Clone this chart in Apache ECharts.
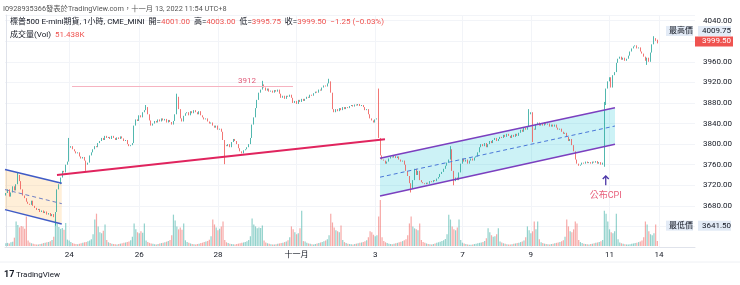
<!DOCTYPE html>
<html><head><meta charset="utf-8">
<script src="https://cdn.jsdelivr.net/npm/echarts@6/dist/echarts.min.js"></script>
<style>html,body{margin:0;padding:0;background:#fff}#c{width:740px;height:285px}</style>
</head><body><div id="c"></div>
<script>
// ---------- data ----------
const xTickLabels = ['24','26','28','十一月','3','7','9','11','14'];
const xTickBars   = [37, 78, 124, 170, 216, 267, 307, 353, 382];
const yTickStep = 40;
const firstOpen = 3700;
// hourly closes: Oct 20 (partial) + Oct 21
const closesW1 = [3705,3712,3698,3706,3718,3710,3722,3740,3728,3712,3700,3695,3688,3684,
  3682,3690,3680,3676,3672,3674,3668,3671,3666,3669,3663,3666,3660,3664,3658,3668,3712,3722,3735,3748,3745,3760,3766];
// Oct 24 - Oct 28
const closesW2 = [3793,3796,3790,3786,3782,3784,3776,3772,3775,3768,3760,3764,3778,3784,3790,3796,3794,3802,3806,3812,3808,3816,3812,
  3814,3810,3816,3812,3808,3813,3810,3815,3811,3806,3808,3800,3796,3798,3802,3836,3848,3845,3856,3852,3862,3866,3872,
  3858,3846,3836,3840,3845,3842,3848,3844,3850,3846,3849,3842,3847,3843,3838,3845,3858,3892,3868,3850,3844,3855,3860,
  3862,3856,3864,3860,3866,3862,3858,3864,3856,3852,3848,3850,3844,3840,3842,3836,3832,3836,3828,3830,3824,3808,3798,
  3796,3800,3794,3804,3810,3806,3800,3792,3786,3782,3788,3790,3794,3800,3812,3838,3852,3870,3886,3900,3906,3916,3910];
// Oct 31 - Nov 4
const closesW3 = [3904,3908,3902,3904,3900,3905,3902,3906,3898,3890,3894,3888,3894,3892,3896,3890,3880,3884,3878,3886,3882,3888,3884,
  3888,3892,3890,3896,3894,3899,3902,3900,3906,3904,3910,3914,3912,3918,3922,3900,3868,3862,3868,3864,3870,3866,3872,
  3868,3872,3870,3874,3876,3873,3877,3875,3878,3874,3876,3872,3866,3868,3858,3850,3846,3842,3848,3850,3812,3778,3770,
  3768,3762,3766,3772,3776,3774,3777,3773,3776,3770,3766,3768,3760,3748,3738,3724,3714,3730,3752,3740,3748,3730,3726,
  3724,3722,3725,3723,3728,3726,3730,3728,3733,3736,3742,3746,3752,3758,3764,3770,3790,3748,3728,3735,3730,3745,3762];
// Nov 7 - Nov 11
const closesW4 = [3772,3766,3770,3762,3768,3772,3768,3774,3776,3784,3794,3800,3796,3802,3794,3800,3806,3802,3808,3812,3806,3810,3814,
  3812,3818,3814,3820,3816,3812,3818,3814,3820,3816,3822,3828,3824,3832,3828,3834,3858,3862,3830,3828,3838,3842,3836,
  3840,3836,3842,3838,3840,3834,3838,3834,3838,3832,3828,3830,3824,3820,3822,3814,3806,3810,3798,3786,3770,3762,3758,
  3760,3764,3762,3766,3763,3765,3762,3766,3764,3767,3762,3765,3760,3764,3876,3908,3922,3930,3910,3934,3940,3958,3966,
  3970,3964,3968,3962,3966,3972,3980,3986,3990,3992,3986,3988,3980,3976,3970,3962,3968,3960,3978,3994,4006,4000.75,3999.5];
// opens that differ from the previous close
const openOverride = {381:4001};
// wick extremes (bar index -> price)
const wickHigh = {7:3745, 37:3812, 82:3876, 100:3898, 150:3923, 189:3927, 218:3908, 260:3796, 306:3868, 350:3882, 379:4009.75, 381:4003};
const wickLow  = {29:3641.5, 47:3748, 128:3761, 237:3706, 262:3720, 308:3804, 350:3756, 375:3954, 381:3995.75};
// hourly volume (K)
const volW1 = [28,32,26,38,44,85,250,215,190,205,200,175,300,55,
  35,28,22,18,16,15,20,24,30,34,38,42,48,60,95,270,230,195,175,185,165,235,65];
const volW2 = [55,40,30,24,20,18,22,28,32,38,42,48,55,70,120,270,330,200,140,130,155,220,60,
  38,30,24,20,18,16,20,24,28,32,36,40,46,58,95,230,170,140,130,150,135,230,55,
  42,32,26,22,18,16,20,26,30,34,38,44,50,62,110,320,260,200,170,190,165,230,58,
  40,32,26,20,18,16,20,24,30,34,40,46,52,64,100,270,220,190,160,175,200,250,60,
  38,30,24,20,18,16,20,24,28,32,36,42,48,60,100,280,220,200,180,190,185,210,55];
const volW3 = [36,28,22,18,16,15,18,22,26,30,34,40,46,58,90,200,170,140,120,130,180,360,50,
  45,34,26,22,18,16,20,26,30,36,42,48,56,70,110,330,240,190,160,150,140,210,60,
  40,30,24,20,18,16,20,24,28,32,36,42,48,58,90,150,140,115,100,110,300,470,90,
  50,38,30,24,20,18,22,28,32,38,44,50,58,70,110,230,300,200,180,170,160,230,60,
  40,32,26,20,18,16,20,26,32,38,44,50,58,72,120,320,270,200,170,160,190,270,60];
const volW4 = [34,26,20,16,14,13,16,20,24,28,32,36,42,50,80,180,140,110,95,100,120,180,45,
  36,28,22,18,16,15,18,22,26,30,34,40,46,56,90,200,160,130,150,250,170,250,70,
  38,30,24,20,18,16,20,24,28,32,36,42,48,58,95,270,200,150,140,170,250,230,60,
  40,30,24,20,18,16,20,24,28,32,36,42,48,60,360,330,250,170,140,130,150,330,70,
  36,28,22,18,16,15,18,22,26,30,34,40,46,56,90,250,220,150,120,110,130,220,51.438];
// drawings (bar index, price)
const leftChannel  = {x:[-0.5, 32.7], upper:[3750.5, 3723.8], lower:[3672.7, 3644.7]};
const rightChannel = {x:[218.8, 356.2], upper:[3772.4, 3870.8], lower:[3699.1, 3799.6]};
const trendLine = {x:[29.9, 221.7], y:[3740, 3809.4]};
const levelLine = {x:[38.7, 167.9], y:3912, labelX:141, label:'3912'};
const cpiMark = {x:350.8, yFrom:3720, yTo:3738, textY:3699, text:'公布CPI'};

// ---------- build ----------
const closes = closesW1.concat(closesW2, closesW3, closesW4);
const vols = volW1.concat(volW2, volW3, volW4);
const UP='#26a69a', DN='#ef5350';
const candles=[], volData=[];
closes.forEach((c,i)=>{
  const o = openOverride[i]!=null ? openOverride[i] : (i===0 ? firstOpen : closes[i-1]);
  const h = wickHigh[i]!=null ? wickHigh[i] : Math.max(o,c);
  const l = wickLow[i]!=null ? wickLow[i] : Math.min(o,c);
  candles.push([i,o,c,l,h]);
  volData.push({value:[i,vols[i]], itemStyle:{color: c>=o ? 'rgba(38,166,154,0.5)' : 'rgba(239,83,80,0.5)'}});
});
const last = candles[candles.length-1];
const prevClose = closes[closes.length-2];
const chg = last[2]-prevClose;
const pct = chg/prevClose*100;
const fmt = v => (v<0?'−':'')+Math.abs(v).toFixed(2);
let hi=-Infinity, lo=Infinity;
candles.forEach(d=>{hi=Math.max(hi,d[4]); lo=Math.min(lo,d[3]);});

const FONT='Roboto, "Noto Sans CJK TC", sans-serif';
const chart = echarts.init(document.getElementById('c'));

function drawFill(params, api){
  const P=(x,y)=>api.coord([x,y]);
  const poly=(ch,fill)=>({type:'polygon', shape:{points:[P(ch.x[0],ch.upper[0]),P(ch.x[1],ch.upper[1]),P(ch.x[1],ch.lower[1]),P(ch.x[0],ch.lower[0])]}, style:{fill}});
  return {type:'group', children:[poly(leftChannel,'rgba(255,183,77,0.22)'), poly(rightChannel,'rgba(0,188,212,0.2)')]};
}
function drawLines(params, api){
  const P=(x,y)=>api.coord([x,y]);
  const seg=(a,b,stroke,w,dash)=>({type:'line', shape:{x1:a[0],y1:a[1],x2:b[0],y2:b[1]}, style:{stroke, lineWidth:w, lineDash:dash||null}});
  const ch=[];
  [[leftChannel,'#3f5bc6','#6f7fc4'],[rightChannel,'#7b3fbf','#4a78d8']].forEach(([c,col,mid])=>{
    ch.push(seg(P(c.x[0],c.upper[0]),P(c.x[1],c.upper[1]),col,1.5));
    ch.push(seg(P(c.x[0],c.lower[0]),P(c.x[1],c.lower[1]),col,1.5));
    ch.push(seg(P(c.x[0],(c.upper[0]+c.lower[0])/2),P(c.x[1],(c.upper[1]+c.lower[1])/2),mid,1,[4,3]));
  });
  ch.push(seg(P(trendLine.x[0],trendLine.y[0]),P(trendLine.x[1],trendLine.y[1]),'#e0245e',2));
  ch.push(seg(P(levelLine.x[0],levelLine.y),P(levelLine.x[1],levelLine.y),'#f6b3c1',1));
  const lp=P(levelLine.labelX,levelLine.y);
  ch.push({type:'text', x:lp[0], y:lp[1]-6, style:{text:levelLine.label, fill:'#e05a78', font:'8px '+FONT, align:'center', verticalAlign:'middle'}});
  const a=P(cpiMark.x,cpiMark.yFrom), b=P(cpiMark.x,cpiMark.yTo);
  ch.push(seg(a,b,'#4b36a8',1.3));
  ch.push({type:'polyline', shape:{points:[[b[0]-3,b[1]+3],[b[0],b[1]],[b[0]+3,b[1]+3]]}, style:{stroke:'#4b36a8', lineWidth:1.3, fill:null}});
  const t=P(cpiMark.x,cpiMark.textY);
  ch.push({type:'text', x:t[0], y:t[1], style:{text:cpiMark.text, fill:'#e8607c', font:'9px '+FONT, align:'center', verticalAlign:'middle'}});
  return {type:'group', children:ch};
}

const option = {
  animation:false,
  backgroundColor:'#ffffff',
  grid:[{left:5, right:45, top:15, bottom:38},{left:5, right:45, top:198, bottom:39}],
  xAxis:[
    {type:'value', gridIndex:0, min:-0.5, max:403,
     axisLine:{show:true, lineStyle:{color:'#e0e3eb'}},
     axisTick:{show:false, customValues:xTickBars},
     axisLabel:{customValues:xTickBars, formatter:v=>xTickLabels[xTickBars.indexOf(Math.round(v))]||'', color:'#131722', fontSize:8, margin:4, fontFamily:FONT},
     splitLine:{show:true, lineStyle:{color:'#f2f4f8'}}},
    {type:'value', gridIndex:1, min:-0.5, max:403, show:false}
  ],
  yAxis:[
    {type:'value', gridIndex:0, position:'right', min:3600, max:4051, interval:yTickStep, scale:true,
     axisLine:{show:true, lineStyle:{color:'#e0e3eb'}}, axisTick:{show:false},
     axisLabel:{formatter:v=>(v>=3680 && v%yTickStep===0)? v.toFixed(2):'', color:'#131722', fontSize:8, margin:8, fontFamily:FONT},
     splitLine:{show:true, lineStyle:{color:'#f2f4f8'}}},
    {type:'value', gridIndex:1, min:0, max:490, show:false}
  ],
  series:[
    {type:'bar', xAxisIndex:1, yAxisIndex:1, data:volData, barWidth:1.2, z:1},
    {type:'custom', xAxisIndex:0, yAxisIndex:0, data:[[0,3800]], renderItem:drawFill, silent:true, z:2},
    {type:'candlestick', xAxisIndex:0, yAxisIndex:0, data:candles,
     dimensions:['i','open','close','low','high'], encode:{x:'i', y:['open','close','low','high']},
     barWidth:1.2,
     itemStyle:{color:UP, color0:DN, borderColor:UP, borderColor0:DN, borderWidth:0.8}, z:3},
    {type:'custom', xAxisIndex:0, yAxisIndex:0, data:[[0,3800]], renderItem:drawLines, silent:true, z:4}
  ]
};
chart.setOption(option);

const yLast = chart.convertToPixel({yAxisIndex:0}, last[2]);
const yHi = Math.min(chart.convertToPixel({yAxisIndex:0}, hi), yLast - 10.5);
const yLo = chart.convertToPixel({yAxisIndex:0}, lo);
const txt=(x,y,text,fill,size,extra)=>Object.assign({type:'text', x, y, style:{text, fill, font:(size||8)+'px '+FONT, verticalAlign:'middle'}, z:100}, extra||{});
const graphic=[
  txt(3,9,'I0928935366發表於TradingView.com，十一月 13, 2022 11:54 UTC+8','#555',7.3),
  {type:'text', x:10, y:22, z:100, style:{
    text:'{l|標普500 E-mini期貨, 1小時, CME_MINI}  {l|開=}{v|'+last[1].toFixed(2)+'}  {l|高=}{v|'+last[4].toFixed(2)+'}  {l|低=}{v|'+last[3].toFixed(2)+'}  {l|收=}{v|'+last[2].toFixed(2)+'}  {v|'+fmt(chg)+' ('+fmt(pct)+'%)}',
    verticalAlign:'middle', font:'8px '+FONT,
    rich:{l:{fill:'#131722', fontSize:8, fontFamily:FONT}, v:{fill:DN, fontSize:8, fontFamily:FONT}}}},
  {type:'text', x:10, y:35, z:100, style:{
    text:'{l|成交量(Vol)}  {v|'+vols[vols.length-1].toFixed(3)+'K}', verticalAlign:'middle', font:'8px '+FONT,
    rich:{l:{fill:'#131722', fontSize:8, fontFamily:FONT}, v:{fill:DN, fontSize:8, fontFamily:FONT}}}},
  // high / low / last labels
  {type:'rect', shape:{x:666, y:yHi-5, width:27, height:10}, style:{fill:'#e3ebf6'}, z:99},
  txt(669,yHi,'最高價','#131722',8),
  {type:'rect', shape:{x:698, y:yHi-5, width:33, height:10}, style:{fill:'#e3ebf6'}, z:99},
  txt(702,yHi,hi.toFixed(2),'#131722',8),
  {type:'rect', shape:{x:666, y:yLo-5, width:27, height:10}, style:{fill:'#e3ebf6'}, z:99},
  txt(669,yLo,'最低價','#131722',8),
  {type:'rect', shape:{x:698, y:yLo-5, width:33, height:10}, style:{fill:'#e3ebf6'}, z:99},
  txt(702,yLo,lo.toFixed(2),'#131722',8),
  {type:'rect', shape:{x:695, y:yLast-5, width:38, height:10}, style:{fill:DN}, z:99},
  txt(702,yLast,last[2].toFixed(2),'#ffffff',8),
  // footer
  {type:'line', shape:{x1:0,y1:262,x2:740,y2:262}, style:{stroke:'#eef0f4', lineWidth:1}, z:50},
  txt(4,275,'17','#131722',9,{style:{text:'17', fill:'#131722', font:'bold 9px '+FONT, verticalAlign:'middle'}}),
  txt(16,275,'TradingView','#131722',8)
];
chart.setOption({graphic});
</script></body></html>
